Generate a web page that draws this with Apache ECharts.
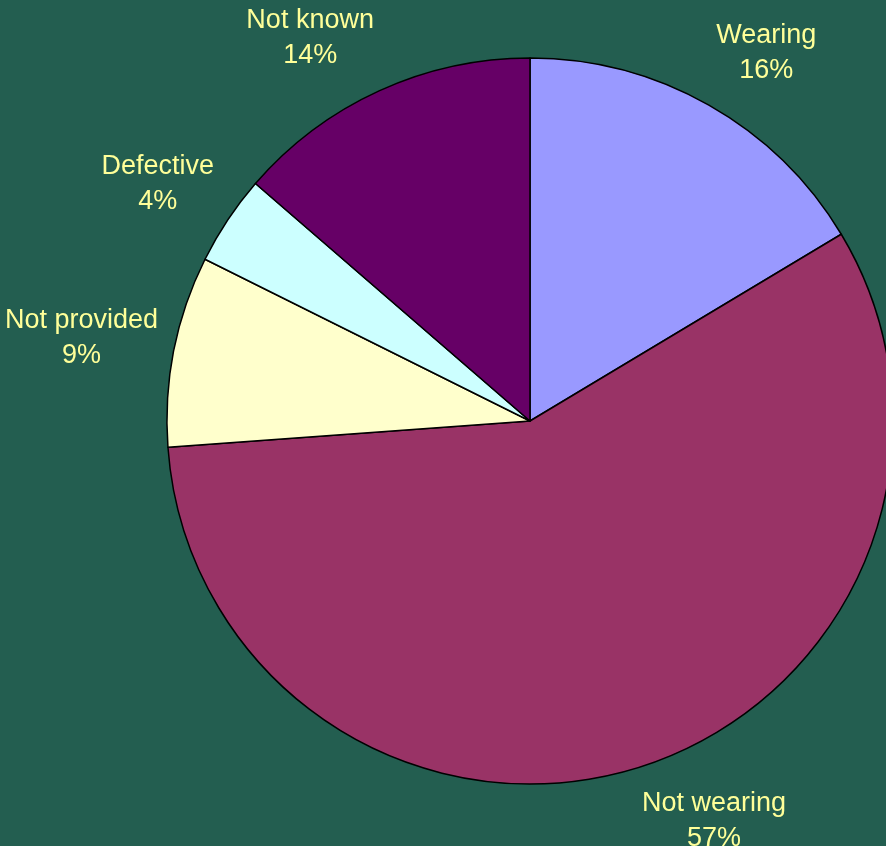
<!DOCTYPE html>
<html>
<head>
<meta charset="utf-8">
<script src="https://cdn.jsdelivr.net/npm/echarts@6/dist/echarts.min.js"></script>
<style>
  html, body { margin: 0; padding: 0; background: #235e50; }
  #chart { width: 886px; height: 846px; }
</style>
</head>
<body>
<div id="chart"></div>
<script>
// data (percent share of each group)
var categories = ['Wearing', 'Not wearing', 'Not provided', 'Defective', 'Not known'];
var values = [16.4, 57.45, 8.5, 4.0, 13.65];
var sliceColors = ['#9999ff', '#993366', '#ffffcc', '#ccffff', '#660066'];

var pieCenter = [530, 421];
var pieRadius = 363;

var total = values.reduce(function (a, b) { return a + b; }, 0);
// mid angle of each slice, clockwise from 12 o'clock
var midAngles = [];
var acc = 0;
values.forEach(function (v) {
  midAngles.push((acc + v / 2) / total * Math.PI * 2);
  acc += v;
});

function clamp(v) { return Math.max(-1, Math.min(1, v)); }

var myChart = echarts.init(document.getElementById('chart'));

var option = {
  backgroundColor: '#235e50',
  series: [
    {
      type: 'pie',
      center: pieCenter,
      radius: pieRadius,
      startAngle: 90,
      clockwise: true,
      avoidLabelOverlap: false,
      animation: false,
      data: categories.map(function (c, i) {
        return { name: c, value: values[i], itemStyle: { color: sliceColors[i] } };
      }),
      itemStyle: {
        borderColor: '#000',
        borderWidth: 1.5
      },
      emphasis: { disabled: true },
      label: {
        show: true,
        position: 'outside',
        color: '#ffff99',
        fontFamily: 'Liberation Sans, Arial, sans-serif',
        fontSize: 27,
        lineHeight: 35,
        align: 'center',
        formatter: function (p) {
          return p.name + '\n' + Math.round(p.percent) + '%';
        }
      },
      labelLine: { show: false },
      // put each label just outside the rim on its slice's middle ray
      labelLayout: function (params) {
        var a = midAngles[params.dataIndex];
        var ux = Math.sin(a), uy = -Math.cos(a);
        var d = pieRadius + 20;
        var px = pieCenter[0] + d * ux;
        var py = pieCenter[1] + d * uy;
        var hw = params.labelRect.width / 2;
        var hh = params.labelRect.height / 2;
        var sx = clamp(ux * 10) * 0.95;
        var sy = clamp(uy * 1.25);
        return {
          x: px + sx * hw,
          y: py + sy * hh,
          align: 'center',
          verticalAlign: 'middle'
        };
      }
    }
  ]
};

myChart.setOption(option);
</script>
</body>
</html>
